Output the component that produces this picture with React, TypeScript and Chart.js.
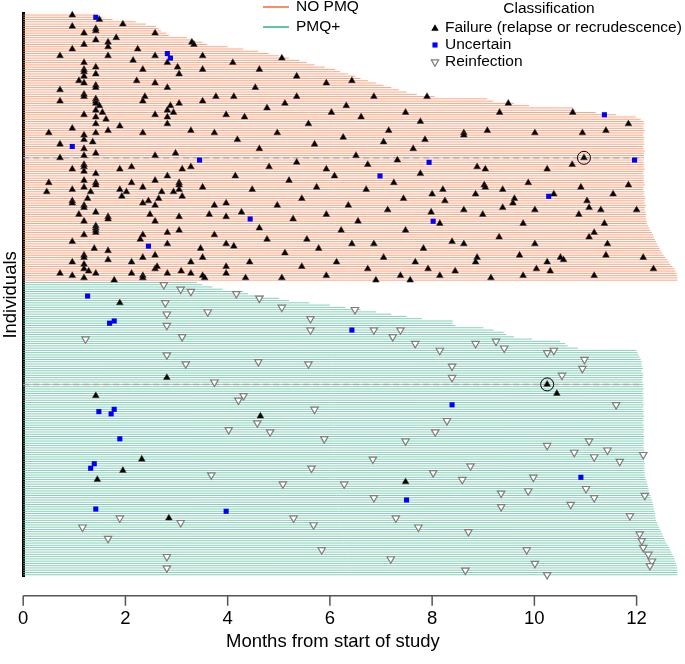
import React, { useEffect, useRef } from 'react';
import { Chart, registerables } from 'chart.js';

Chart.register(...registerables);

const FONT = "'Liberation Sans', Arial, Helvetica, sans-serif";

// ---------- axis / text ----------
const xTicks = [0, 2, 4, 6, 8, 10, 12];
const xMax = 12.8;
const xTitle = 'Months from start of study';
const yTitle = 'Individuals';
const groupLabels = ['NO PMQ', 'PMQ+'];
const legendTitle = 'Classification';
const classLabels = ['Failure (relapse or recrudescence)', 'Uncertain', 'Reinfection'];

// ---------- follow-up end (months) for each individual, top to bottom ----------
const noPmqEnds = [
  1.45, 1.55, 1.75, 2.2, 2.4, 2.6, 2.65, 2.7, 2.8, 2.85, 3.2, 3.3, 3.5, 3.6,
  4.0, 4.3, 4.6, 4.8, 5.0, 5.2, 5.4, 5.55, 5.7, 5.9, 6.1, 6.2, 6.35, 6.5, 6.6, 6.75, 6.9, 7.05, 7.2, 7.35, 7.5, 7.7, 8.05,
  9.08, 9.2, 9.6, 9.9, 10.76, 10.8, 11.2, 11.6, 11.98, 12.08,
  12.14, 12.15, 12.13, 12.14, 12.16, 12.14, 12.13, 12.15, 12.14,
  12.14, 12.15, 12.13, 12.14, 12.16, 12.14, 12.15, 12.14, 12.13,
  12.14, 12.15, 12.14, 12.16, 12.14, 12.13, 12.15, 12.14, 12.14,
  12.15, 12.16, 12.14, 12.13, 12.15, 12.14, 12.16, 12.17, 12.15,
  12.16, 12.18, 12.17, 12.16, 12.18, 12.19, 12.18, 12.19, 12.2,
  12.2, 12.22, 12.25, 12.27, 12.3, 12.32, 12.34, 12.36, 12.38, 12.4, 12.43, 12.45, 12.47,
  12.5, 12.53, 12.56, 12.6, 12.63, 12.66, 12.7, 12.74, 12.76, 12.78, 12.79, 12.8, 12.8,
];

const pmqEnds = [
  3.4, 3.5, 3.7, 3.9, 4.3, 4.4, 4.7, 5.0, 5.2, 5.6, 6.0, 6.3, 6.6, 6.9, 7.2, 7.5, 7.8,
  8.4, 8.4, 8.45, 9.0, 9.2, 9.4, 9.45, 9.6, 9.95, 10.5, 10.6, 10.65, 10.85,
  12.0, 12.02, 12.04, 12.06, 12.08, 12.1, 12.1, 12.11,
  12.12, 12.1, 12.12, 12.13, 12.12, 12.11, 12.12, 12.13,
  12.12, 12.14, 12.12, 12.13, 12.12, 12.14, 12.13, 12.12,
  12.14, 12.13, 12.12, 12.14, 12.13, 12.15, 12.13, 12.14,
  12.12, 12.14, 12.13, 12.15, 12.14, 12.13, 12.15, 12.14,
  12.14, 12.15, 12.13, 12.14, 12.15, 12.14, 12.15, 12.16,
  12.14, 12.15, 12.16, 12.15, 12.16, 12.15, 12.16, 12.16,
  12.17, 12.18, 12.2, 12.21, 12.22, 12.23, 12.24, 12.25, 12.27, 12.28, 12.3,
  12.31, 12.32, 12.33, 12.34, 12.35, 12.36, 12.36, 12.37, 12.38, 12.4, 12.42,
  12.44, 12.46, 12.48, 12.5, 12.52, 12.54, 12.56, 12.58, 12.61, 12.64, 12.66,
  12.68, 12.7, 12.72, 12.74, 12.75, 12.77, 12.78, 12.79, 12.8, 12.8, 12.8,
];

// ---------- recurrences: [month, individual row] ----------
const noPmqFailure = [
  [0.96, 0], [1.49, 2], [1.95, 4], [0.96, 5], [1.42, 6], [1.42, 7], [1.19, 8], [1.82, 10], [2.58, 8], [1.42, 11],
  [1.66, 12], [1.19, 13], [1.66, 14], [3.3, 12], [3.34, 13], [0.96, 15], [2.24, 15], [0.72, 18], [1.66, 18], [2.58, 18],
  [3.51, 18], [2.15, 20], [2.82, 21], [1.19, 21], [1.19, 24], [1.19, 25], [1.19, 27], [1.19, 30], [1.42, 23], [2.34, 24],
  [3.02, 23], [3.51, 24], [1.42, 26], [3.05, 26], [1.09, 29], [2.22, 29], [2.58, 30], [1.42, 31], [1.42, 32], [2.82, 32],
  [0.72, 33], [1.19, 35], [1.19, 36], [3.77, 36], [2.38, 36], [1.42, 37], [1.42, 38], [1.42, 39], [0.72, 38], [2.34, 38],
  [3.51, 38], [1.49, 40], [2.88, 40], [3.05, 39], [2.82, 42], [1.42, 42], [1.55, 43], [2.94, 43], [1.19, 44], [2.58, 44],
  [3.97, 44], [1.42, 45], [2.82, 45], [1.62, 46], [1.42, 48], [2.82, 48], [1.89, 49], [0.96, 50], [1.66, 51], [3.28, 51],
  [0.5, 52], [1.42, 52], [2.34, 52], [3.74, 52], [1.19, 53], [1.19, 55], [1.36, 56], [0.72, 57], [1.19, 59],
  [1.42, 61], [1.19, 62], [0.72, 63], [2.58, 62], [2.98, 61], [3.28, 67], [1.19, 66], [1.19, 67], [0.96, 68], [1.89, 68],
  [2.12, 67], [3.11, 68], [1.19, 69], [1.42, 70], [2.82, 71], [0.5, 74], [1.19, 73], [1.42, 74], [1.42, 75], [2.12, 74],
  [2.58, 73], [3.05, 74], [3.05, 75], [0.46, 78], [0.96, 77], [1.19, 76], [1.32, 78], [1.89, 77], [1.93, 80], [2.02, 78],
  [2.34, 76], [2.71, 78], [2.94, 78], [3.05, 77], [3.11, 80], [3.51, 76], [1.26, 81], [2.65, 81], [0.96, 82], [0.96, 83],
  [2.34, 83], [2.45, 82], [1.19, 84], [1.19, 85], [2.58, 84], [3.97, 83], [3.74, 84], [1.42, 87], [1.09, 88], [2.48, 88],
  [3.64, 88], [1.66, 89], [1.66, 90], [3.05, 89], [1.19, 91], [2.58, 91], [3.97, 89], [1.42, 93], [1.42, 94], [1.42, 95],
  [1.42, 96], [3.05, 95], [2.82, 96], [1.19, 97], [2.34, 97], [2.29, 99], [3.74, 97], [0.96, 100], [2.82, 101], [3.97, 101],
  [1.39, 103], [1.66, 104], [3.47, 103], [1.19, 106], [1.19, 107], [2.34, 107], [2.58, 106], [3.51, 107], [1.66, 108],
  [0.96, 109], [2.12, 109], [3.28, 109], [1.19, 110], [1.19, 112], [1.28, 113], [2.58, 112], [2.62, 111], [3.09, 113],
  [3.97, 111], [0.72, 114], [0.96, 115], [1.42, 114], [2.12, 114], [2.34, 115], [2.34, 116], [2.82, 114], [3.28, 114],
  [3.51, 115], [3.55, 116], [1.19, 116], [3.97, 114], [1.78, 117],
  [4.12, 36], [4.54, 32], [4.33, 45], [4.77, 41], [5.12, 39], [5.35, 36], [5.58, 48], [6.03, 43], [6.32, 40], [6.61, 45],
  [6.86, 36], [7.15, 51], [7.48, 43], [7.77, 47], [7.9, 36], [4.19, 55], [4.62, 59], [4.97, 52], [5.35, 65], [5.7, 57],
  [5.93, 68], [6.26, 54], [6.51, 62], [6.74, 66], [7.05, 56], [7.32, 64], [7.63, 59], [7.86, 55], [4.15, 71], [4.48, 77],
  [4.81, 67], [5.2, 73], [5.45, 81], [5.74, 76], [6.09, 71], [6.36, 84], [6.71, 77], [7.25, 74], [7.44, 81], [7.77, 70],
  [8.0, 79], [4.27, 87], [4.62, 94], [4.97, 84], [5.28, 90], [5.55, 99], [5.93, 88], [6.22, 95], [6.55, 91], [6.86, 101],
  [7.13, 86], [7.48, 95], [7.83, 103], [7.98, 87], [4.12, 102], [4.43, 109], [4.77, 99], [5.12, 105], [5.45, 111],
  [5.78, 103], [6.13, 109], [6.43, 101], [6.74, 112], [7.05, 107], [7.38, 115], [7.67, 109], [7.92, 112], [4.35, 116],
  [5.06, 116], [5.93, 115], [6.9, 117], [7.57, 117], [4.1, 21], [4.62, 24], [5.35, 27], [5.93, 30], [5.06, 19], [6.43, 29],
  [9.49, 39], [9.32, 43], [10.75, 43], [11.84, 48], [8.62, 52], [8.62, 53], [9.08, 51], [10.01, 52], [10.94, 52],
  [11.4, 51], [10.97, 63], [10.74, 66], [8.88, 67], [9.04, 68], [10.25, 68], [9.88, 74], [9.02, 75], [9.04, 76], [8.21, 77],
  [8.85, 79], [9.38, 77], [10.38, 79], [10.91, 76], [11.54, 79], [11.84, 75], [8.25, 82], [9.61, 81], [9.58, 83],
  [11.03, 82], [8.62, 86], [9.38, 85], [10.01, 86], [11.07, 85], [11.3, 86], [12.0, 86], [8.99, 88], [10.87, 88],
  [8.15, 92], [9.78, 92], [11.37, 92], [9.31, 98], [11.07, 98], [11.17, 96], [8.39, 100], [8.62, 101], [10.01, 101],
  [11.43, 101], [9.71, 106], [11.4, 106], [8.88, 107], [8.85, 109], [10.51, 107], [10.57, 108], [10.25, 109], [12.13, 107],
  [10.04, 112], [10.31, 113], [12.33, 112], [8.45, 113], [8.15, 115], [9.15, 116], [9.78, 115], [11.17, 115],
];

const noPmqUncertain = [
  [1.42, 1], [2.82, 17], [2.88, 19], [0.96, 58], [3.45, 64], [2.45, 102], [11.37, 44], [11.96, 64], [10.28, 80],
  [4.44, 90], [6.98, 71], [7.94, 65], [8.02, 91],
];

const pmqFailure = [
  [1.89, 127], [2.81, 160], [1.42, 168], [2.32, 196], [1.95, 201], [1.45, 205], [2.85, 222], [10.25, 163],
  [10.44, 167], [4.64, 177], [7.48, 206],
];

const pmqUncertain = [
  [1.26, 124], [1.78, 135], [1.69, 136], [1.48, 175], [1.78, 174], [1.72, 176], [1.89, 187], [1.39, 198],
  [1.32, 200], [1.42, 218], [3.97, 219], [6.43, 139], [8.39, 172], [10.91, 204], [7.5, 214],
];

const pmqReinfection = [
  [2.75, 119], [3.08, 121], [3.28, 122], [2.78, 127], [2.81, 132], [3.61, 131], [2.81, 137], [1.22, 143], [3.11, 142],
  [2.81, 150], [3.18, 154], [3.74, 162], [3.68, 203], [1.89, 222], [3.08, 224], [1.16, 226], [1.66, 231], [2.81, 239],
  [2.81, 244], [8.15, 148], [8.85, 145], [9.25, 144], [9.41, 147], [10.25, 149], [10.38, 148], [10.98, 152], [8.39, 155],
  [10.94, 156], [8.39, 160], [10.54, 159], [11.6, 172], [8.29, 179], [8.06, 184], [10.25, 190], [11.07, 188],
  [11.43, 192], [10.78, 193], [11.17, 195], [11.67, 197], [12.13, 194], [8.75, 199], [8.59, 205], [9.98, 204],
  [11.01, 209], [9.35, 211], [9.88, 210], [11.17, 213], [12.16, 212], [10.71, 216], [9.35, 217], [11.87, 221],
  [8.71, 228], [12.06, 229], [12.1, 232], [12.13, 235], [9.85, 236], [12.23, 238], [12.3, 241], [10.01, 242],
  [12.26, 243], [8.65, 245], [10.25, 247], [4.17, 123], [4.62, 125], [5.06, 129], [5.62, 134], [5.62, 139], [6.49, 130],
  [6.86, 139], [7.23, 142], [7.38, 139], [7.67, 145], [4.6, 153], [4.31, 168], [4.21, 170], [5.58, 154], [4.58, 180],
  [4.83, 184], [4.02, 183], [5.7, 174], [5.89, 187], [5.08, 207], [5.64, 200], [6.28, 207], [6.84, 196], [7.48, 188],
  [5.29, 222], [5.68, 225], [5.84, 236], [7.29, 222], [7.73, 226], [8.02, 202], [6.86, 213], [7.19, 240],
];

const highlightedRows = [63, 163];
const circledEvents = [[10.97, 63], [10.25, 163]];

// ---------- styles ----------
const ORANGE = '#FC8D62';
const GREEN = '#66C2A5';
const ORANGE_ROW = 'rgba(252,141,98,0.8)';
const GREEN_ROW = 'rgba(102,194,165,0.8)';
const TRI_R = 3.9;
const SQ_R = 3.6;
const REINF_R = 4.3;
const REINF_COLOR = '#7d7d7d';
const SQ_COLOR = '#0000FF';

const allEnds = [...noPmqEnds, ...pmqEnds];
const totalRows = allEnds.length;

function rowLines(ends: number[], first: number) {
  const out: { x: number; y: number | null }[] = [];
  ends.forEach((e, i) => {
    out.push({ x: 0, y: first + i }, { x: e, y: first + i }, { x: 0, y: null });
  });
  return out;
}

function toPoints(list: number[][]) {
  return list.map(([x, y]) => ({ x, y }));
}

function drawTriangle(ctx: CanvasRenderingContext2D, x: number, y: number, r: number, down: boolean) {
  const s = down ? -1 : 1;
  const h = Math.sin(Math.PI / 3) * r;
  ctx.beginPath();
  ctx.moveTo(x, y - s * r);
  ctx.lineTo(x + h, y + s * r / 2);
  ctx.lineTo(x - h, y + s * r / 2);
  ctx.closePath();
}

const overlay = {
  id: 'overlay',
  afterDraw(chart: any) {
    const ctx: CanvasRenderingContext2D = chart.ctx;
    const xs = chart.scales.x;
    const area = chart.chartArea;
    ctx.save();
    // R-style x axis
    const axisY = area.bottom + 19;
    const x0 = xs.getPixelForValue(xTicks[0]);
    const x1 = xs.getPixelForValue(xTicks[xTicks.length - 1]);
    ctx.strokeStyle = '#555';
    ctx.lineWidth = 1.5;
    ctx.beginPath();
    ctx.moveTo(x0, axisY);
    ctx.lineTo(x1, axisY);
    xTicks.forEach((v) => {
      const px = xs.getPixelForValue(v);
      ctx.moveTo(px, axisY);
      ctx.lineTo(px, axisY + 10);
    });
    ctx.stroke();

    ctx.fillStyle = '#000';
    ctx.textBaseline = 'middle';
    ctx.textAlign = 'center';
    ctx.font = `18.5px ${FONT}`;
    ctx.fillText(xTitle, (x0 + x1) / 2 + 3, 642);

    // group legend
    ctx.font = `15.5px ${FONT}`;
    ctx.textAlign = 'left';
    [ORANGE, GREEN].forEach((c, i) => {
      const y = 7 + i * 20;
      ctx.strokeStyle = c;
      ctx.lineWidth = 2;
      ctx.beginPath();
      ctx.moveTo(263, y);
      ctx.lineTo(289, y);
      ctx.stroke();
      ctx.fillText(groupLabels[i], 296, y);
    });

    // classification legend
    ctx.textAlign = 'center';
    ctx.fillText(legendTitle, 549, 9);
    ctx.textAlign = 'left';
    const ys = [28, 45, 62];
    classLabels.forEach((t, i) => ctx.fillText(t, 445, ys[i]));
    const mx = 435;
    drawTriangle(ctx, mx, ys[0] + 0.5, TRI_R + 0.4, false);
    ctx.fillStyle = '#000';
    ctx.fill();
    ctx.fillStyle = SQ_COLOR;
    const side = SQ_R * Math.SQRT2;
    ctx.fillRect(mx - side / 2, ys[1] - side / 2, side, side);
    drawTriangle(ctx, mx, ys[2], REINF_R, true);
    ctx.fillStyle = '#fff';
    ctx.fill();
    ctx.strokeStyle = REINF_COLOR;
    ctx.lineWidth = 1.2;
    ctx.stroke();
    ctx.restore();
  },
};

export default function App() {
  const ref = useRef<HTMLCanvasElement | null>(null);

  useEffect(() => {
    if (!ref.current) return;
    Chart.defaults.font.family = FONT;
    Chart.defaults.color = '#000';

    const dashed: { x: number; y: number | null }[] = [];
    highlightedRows.forEach((r) => {
      dashed.push({ x: 0, y: r }, { x: allEnds[r], y: r }, { x: 0, y: null });
    });

    const chart = new Chart(ref.current, {
      type: 'scatter',
      data: {
        datasets: [
          {
            data: rowLines(noPmqEnds, 0) as any,
            showLine: true,
            borderColor: ORANGE_ROW,
            borderWidth: 1.0,
            pointRadius: 0,
            order: 20,
            clip: false as any,
          },
          {
            data: rowLines(pmqEnds, noPmqEnds.length) as any,
            showLine: true,
            borderColor: GREEN_ROW,
            borderWidth: 1.0,
            pointRadius: 0,
            order: 20,
            clip: false as any,
          },
          {
            data: dashed as any,
            showLine: true,
            borderColor: 'rgba(175,170,170,0.95)',
            borderWidth: 1.5,
            borderDash: [6, 4],
            pointRadius: 0,
            order: 15,
            clip: false as any,
          },
          {
            data: toPoints([...noPmqFailure, ...pmqFailure]) as any,
            pointStyle: 'triangle',
            pointRadius: TRI_R,
            backgroundColor: '#000',
            borderColor: 'rgba(60,60,60,0.9)',
            borderWidth: 0.6,
            order: 3,
            clip: false as any,
          },
          {
            data: toPoints(pmqReinfection) as any,
            pointStyle: 'triangle',
            rotation: 180,
            pointRadius: REINF_R,
            backgroundColor: '#fff',
            borderColor: REINF_COLOR,
            borderWidth: 1.2,
            order: 4,
            clip: false as any,
          },
          {
            data: toPoints([...noPmqUncertain, ...pmqUncertain]) as any,
            pointStyle: 'rect',
            pointRadius: SQ_R,
            backgroundColor: SQ_COLOR,
            borderColor: SQ_COLOR,
            borderWidth: 0,
            order: 2,
            clip: false as any,
          },
          {
            data: toPoints(circledEvents) as any,
            pointStyle: 'circle',
            pointRadius: 6.5,
            backgroundColor: 'rgba(0,0,0,0)',
            borderColor: '#000',
            borderWidth: 1,
            order: 0,
            clip: false as any,
          },
        ],
      },
      options: {
        animation: false,
        responsive: false,
        events: [],
        layout: { padding: { top: 13, bottom: 32, left: 0, right: 0 } },
        plugins: { legend: { display: false }, tooltip: { enabled: false } },
        scales: {
          x: {
            type: 'linear',
            min: 0,
            max: xMax,
            position: 'bottom',
            afterBuildTicks: (s: any) => {
              s.ticks = xTicks.map((v) => ({ value: v }));
            },
            grid: { display: false, drawTicks: true, tickLength: 29 },
            border: { display: false },
            ticks: { font: { size: 18.5, family: FONT }, color: '#000', padding: 2, maxRotation: 0, autoSkip: false },
          },
          y: {
            type: 'linear',
            min: -0.9,
            max: totalRows - 0.1,
            reverse: true,
            grid: { display: false, drawTicks: false },
            border: { display: true, width: 3, color: '#000' },
            ticks: { display: false },
            title: {
              display: true,
              text: yTitle,
              font: { size: 18.5, family: FONT },
              color: '#000',
              padding: { top: 0, bottom: 1 },
            },
          },
        },
      } as any,
      plugins: [overlay],
    });
    return () => chart.destroy();
  }, []);

  return (
    <div style={{ position: 'absolute', left: 0, top: 0, width: 685, height: 664 }}>
      <canvas ref={ref} width={685} height={664} style={{ display: 'block' }} />
    </div>
  );
}
